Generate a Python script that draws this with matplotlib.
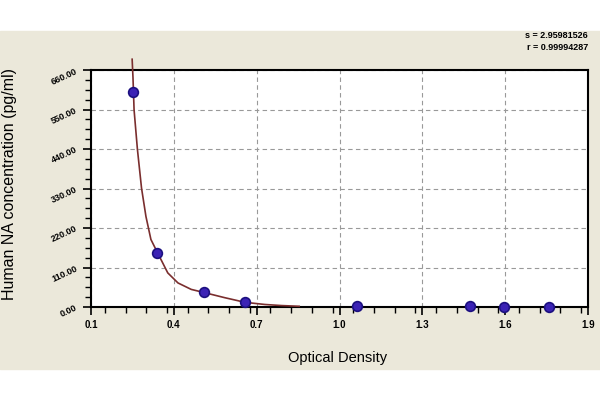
import matplotlib
matplotlib.use('Agg')
import matplotlib.pyplot as plt
from matplotlib.patches import Rectangle
from matplotlib.ticker import MultipleLocator

plt.rcParams['font.family'] = ['Liberation Sans', 'DejaVu Sans']

# standard points (optical density vs concentration)
od = [0.251, 0.339, 0.511, 0.657, 1.063, 1.473, 1.597, 1.758]
conc = [599, 151, 43, 15, 3, 1.5, 1, 0.5]

# fitted curve
curve_x = [0.249, 0.252, 0.256, 0.268, 0.283, 0.299, 0.317, 0.341, 0.378,
           0.415, 0.463, 0.511, 0.584, 0.658, 0.730, 0.790, 0.854]
curve_y = [690, 640, 549, 440, 331, 252, 188, 151, 95,
           67, 49, 40, 26, 13, 7, 4, 2]

xticks = [0.1, 0.4, 0.7, 1.0, 1.3, 1.6, 1.9]
yticks = [0, 110, 220, 330, 440, 550, 660]

fig = plt.figure(figsize=(6, 4), dpi=100)
fig.patch.set_facecolor('white')
fig.patches.append(Rectangle((0, 1 - 369 / 400), 1, 338 / 400,
                             transform=fig.transFigure, color='#ebe8da', zorder=-10))

ax = fig.add_axes([91 / 600, 1 - 307 / 400, 497 / 600, 237 / 400])
ax.set_facecolor('white')

ax.plot(curve_x, curve_y, color='#7a2e2e', lw=1.2, clip_on=False, zorder=3)
ax.plot(od, conc, 'o', color='#3b22b5', mec='#1c1080', ms=7, mew=1.2,
        clip_on=False, zorder=4)

ax.set_xlim(0.1, 1.9)
ax.set_ylim(0, 660)
ax.set_xticks(xticks)
ax.set_yticks(yticks)
ax.xaxis.set_minor_locator(MultipleLocator(0.075))
ax.yaxis.set_minor_locator(MultipleLocator(27.5))
ax.set_xticklabels(['%.1f' % v for v in xticks], fontsize=7, fontweight='bold')
ax.set_yticklabels(['%.2f' % v for v in yticks], fontsize=6.5, fontweight='bold',
                   rotation=25)
ax.tick_params(which='major', length=6, width=1.2, colors='black', pad=3)
ax.tick_params(which='minor', length=4, width=1.0)
for s in ax.spines.values():
    s.set_linewidth(1.5)
    s.set_color('black')

ax.grid(True, which='major', color='#999999', ls=(0, (4, 3)), lw=0.8)
ax.set_axisbelow(True)

ax.set_xlabel('Optical Density', fontsize=10.5)
ax.xaxis.set_label_coords(0.497, -0.185)
ax.set_ylabel('Human NA concentration (pg/ml)', fontsize=11.5)
ax.yaxis.set_label_coords(-0.148, 0.52)

fig.text(588 / 600, 1 - 36 / 400, 's = 2.95981526', ha='right', va='center',
         fontsize=6.5, fontweight='bold')
fig.text(588 / 600, 1 - 47 / 400, 'r = 0.99994287', ha='right', va='center',
         fontsize=6.5, fontweight='bold')

fig.savefig('out.png', dpi=100, facecolor=fig.get_facecolor())
